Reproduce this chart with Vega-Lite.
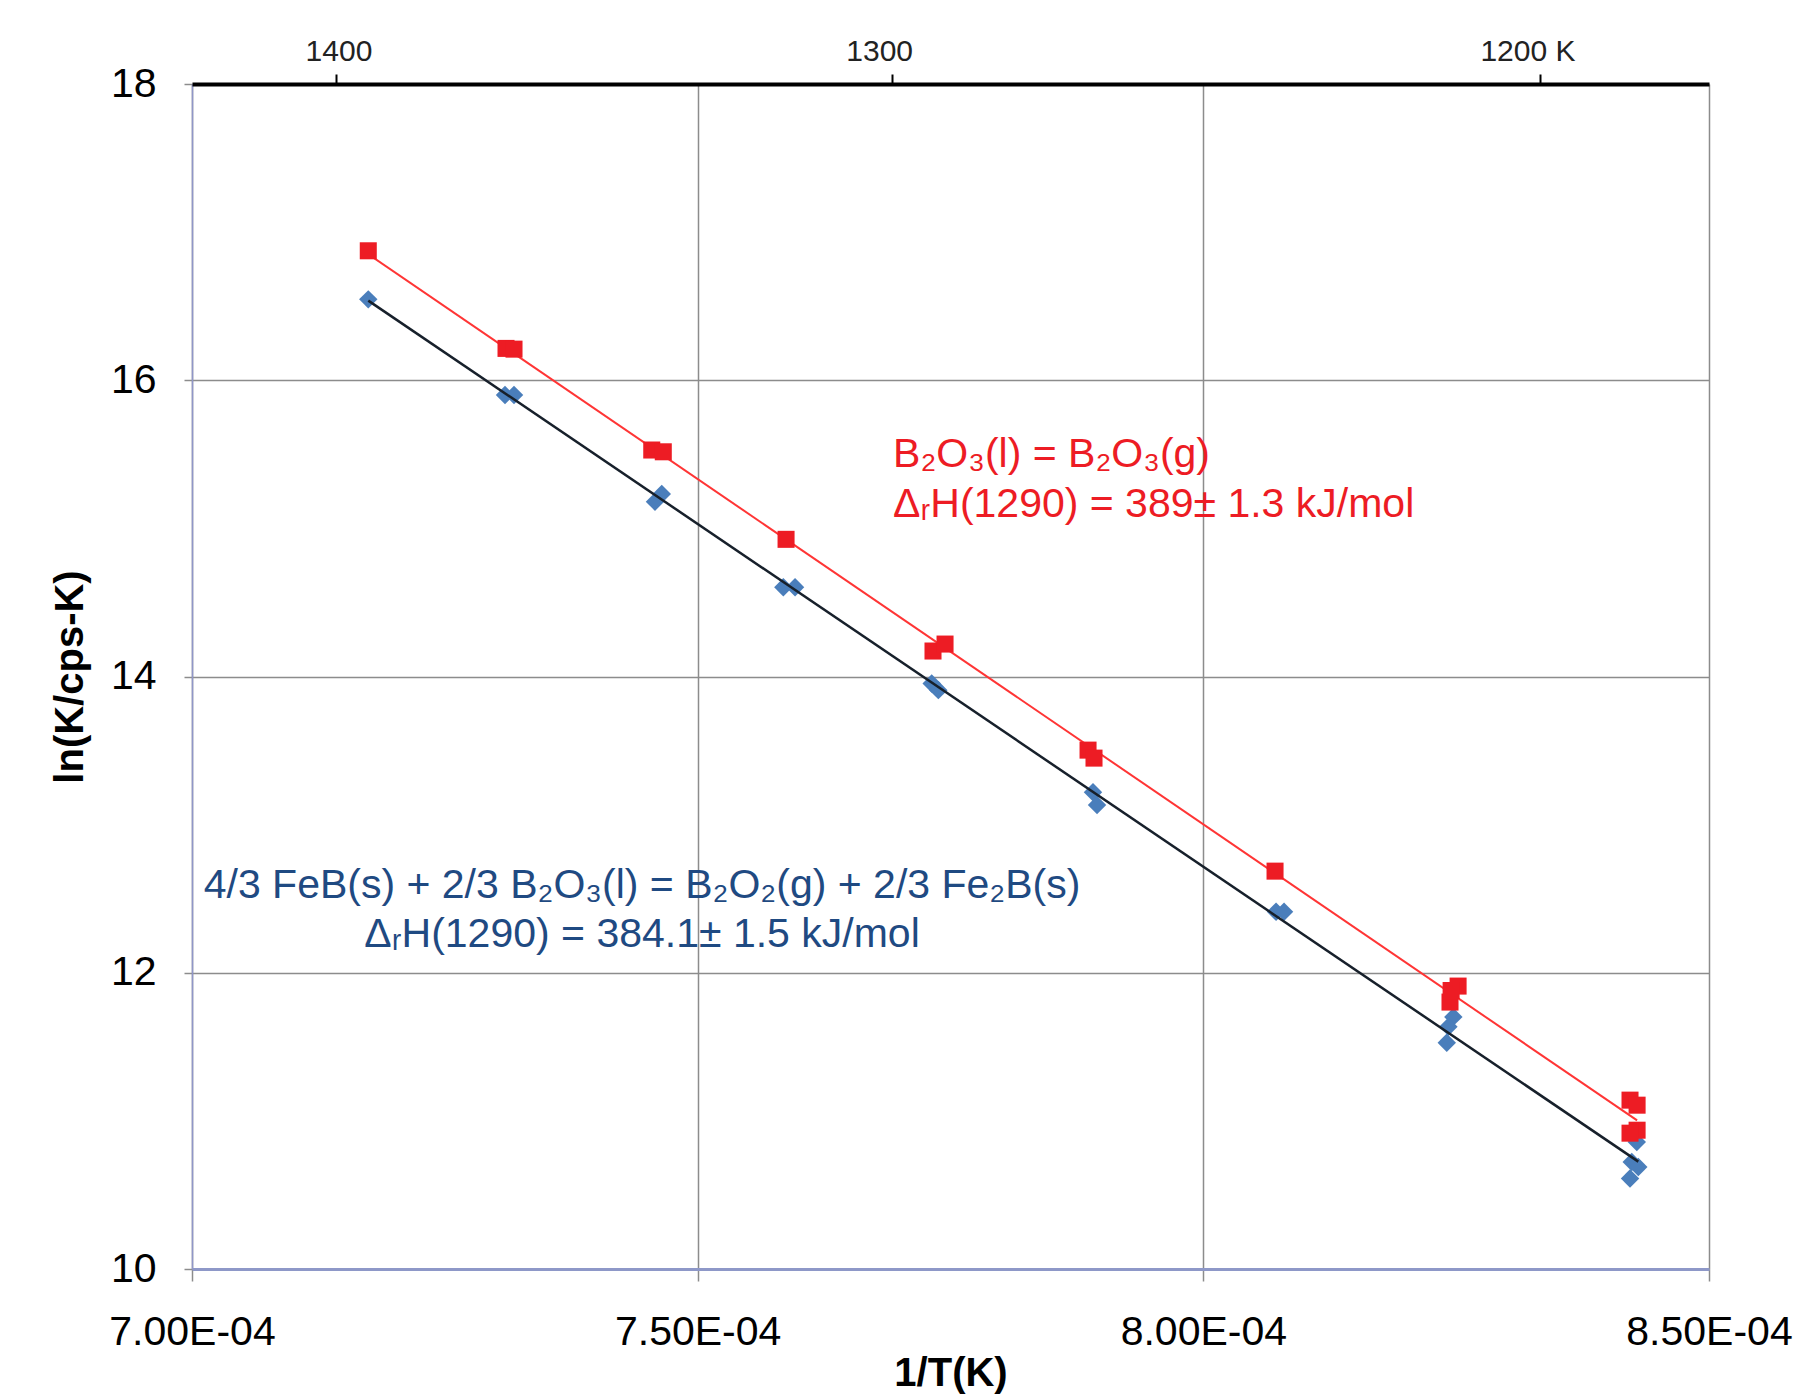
{
  "$schema": "https://vega.github.io/schema/vega-lite/v6.json",
  "width": 1517,
  "height": 1185,
  "autosize": {"type": "none"},
  "padding": {"left": 192, "top": 84, "right": 89, "bottom": 125},
  "background": "white",
  "config": {"view": {"stroke": null}, "font": "Liberation Sans"},
  "datasets": {
    "blue": [
      {"invT": 0.00071743, "lnK": 16.546},
      {"invT": 0.00073095, "lnK": 15.900},
      {"invT": 0.00073184, "lnK": 15.900},
      {"invT": 0.00074578, "lnK": 15.180},
      {"invT": 0.00074645, "lnK": 15.232},
      {"invT": 0.00075847, "lnK": 14.602},
      {"invT": 0.00075963, "lnK": 14.602},
      {"invT": 0.00077314, "lnK": 13.953},
      {"invT": 0.00077380, "lnK": 13.908},
      {"invT": 0.00078909, "lnK": 13.219},
      {"invT": 0.00078949, "lnK": 13.132},
      {"invT": 0.00080719, "lnK": 12.412},
      {"invT": 0.00080798, "lnK": 12.412},
      {"invT": 0.00082472, "lnK": 11.702},
      {"invT": 0.00082423, "lnK": 11.635},
      {"invT": 0.00082407, "lnK": 11.527},
      {"invT": 0.00084286, "lnK": 10.858},
      {"invT": 0.00084236, "lnK": 10.723},
      {"invT": 0.00084301, "lnK": 10.689},
      {"invT": 0.00084219, "lnK": 10.611}
    ],
    "red": [
      {"invT": 0.00071743, "lnK": 16.874},
      {"invT": 0.00073105, "lnK": 16.215},
      {"invT": 0.00073184, "lnK": 16.210},
      {"invT": 0.00074546, "lnK": 15.529},
      {"invT": 0.00074660, "lnK": 15.517},
      {"invT": 0.00075874, "lnK": 14.926},
      {"invT": 0.00077327, "lnK": 14.172},
      {"invT": 0.00077446, "lnK": 14.219},
      {"invT": 0.00078860, "lnK": 13.503},
      {"invT": 0.00078919, "lnK": 13.449},
      {"invT": 0.00080709, "lnK": 12.686},
      {"invT": 0.00082439, "lnK": 11.802},
      {"invT": 0.00082519, "lnK": 11.910},
      {"invT": 0.00082450, "lnK": 11.880},
      {"invT": 0.00084219, "lnK": 11.140},
      {"invT": 0.00084289, "lnK": 11.106},
      {"invT": 0.00084289, "lnK": 10.937},
      {"invT": 0.00084219, "lnK": 10.917}
    ],
    "notes": [
      {"grp": "red", "invT": 0.00076932, "lnK": 15.416, "label": "B₂O₃(l) = B₂O₃(g)"},
      {"grp": "red", "invT": 0.00076932, "lnK": 15.078, "label": "ΔᵣH(1290) = 389± 1.3 kJ/mol"},
      {"grp": "blue", "invT": 0.00074450, "lnK": 12.502, "label": "4/3 FeB(s) + 2/3 B₂O₃(l) = B₂O₂(g) + 2/3 Fe₂B(s)"},
      {"grp": "blue", "invT": 0.00074450, "lnK": 12.175, "label": "ΔᵣH(1290) = 384.1± 1.5 kJ/mol"}
    ]
  },
  "resolve": {"axis": {"x": "independent", "y": "independent"}},
  "layer": [
    {
      "data": {"name": "blue"},
      "mark": {"type": "point", "shape": "diamond", "filled": true, "size": 340, "color": "#4A7EBB", "opacity": 1},
      "encoding": {
        "x": {
          "field": "invT", "type": "quantitative",
          "scale": {"domain": [0.0007, 0.00085], "nice": false, "zero": false},
          "axis": {
            "orient": "bottom",
            "values": [0.0007, 0.00075, 0.0008, 0.00085],
            "labelExpr": "format(datum.value*10000, '.2f') + 'E-04'",
            "grid": true, "gridColor": "#8C8C8C", "gridWidth": 1.5,
            "domainColor": "#8E98C8", "domainWidth": 3,
            "tickColor": "#8C8C8C", "tickSize": 12, "tickWidth": 1.5,
            "labelFontSize": 41, "labelColor": "#000000", "labelPadding": 31,
            "labelFlush": false, "labelOverlap": false,
            "title": "1/T(K)", "titleFontSize": 40, "titleFontWeight": "bold",
            "titleColor": "#000000", "titlePadding": 1
          }
        },
        "y": {
          "field": "lnK", "type": "quantitative",
          "scale": {"domain": [10, 18], "nice": false, "zero": false},
          "axis": {
            "orient": "left",
            "values": [10, 12, 14, 16, 18],
            "grid": true, "gridColor": "#8C8C8C", "gridWidth": 1.5,
            "domainColor": "#9096C8", "domainWidth": 1.5,
            "tickColor": "#8C8C8C", "tickSize": 8, "tickWidth": 1.5,
            "labelFontSize": 41, "labelColor": "#000000", "labelPadding": 28,
            "labelFlush": false,
            "title": "ln(K/cps-K)", "titleFontSize": 40, "titleFontWeight": "bold",
            "titleColor": "#000000", "titlePadding": 20
          }
        }
      }
    },
    {
      "data": {"name": "blue"},
      "transform": [{"regression": "lnK", "on": "invT"}],
      "mark": {"type": "line", "color": "#17202B", "strokeWidth": 2.5},
      "encoding": {
        "x": {"field": "invT", "type": "quantitative", "axis": null},
        "y": {"field": "lnK", "type": "quantitative", "axis": null}
      }
    },
    {
      "data": {"name": "red"},
      "transform": [{"regression": "lnK", "on": "invT"}],
      "mark": {"type": "line", "color": "#FF3535", "strokeWidth": 2},
      "encoding": {
        "x": {"field": "invT", "type": "quantitative", "axis": null},
        "y": {"field": "lnK", "type": "quantitative", "axis": null}
      }
    },
    {
      "data": {"name": "red"},
      "mark": {"type": "point", "shape": "square", "filled": true, "size": 290, "color": "#ED1C24", "opacity": 1},
      "encoding": {
        "x": {
          "field": "invT", "type": "quantitative",
          "axis": {
            "orient": "top",
            "values": [0.000714285714, 0.000769230769, 0.000833333333],
            "labelExpr": "datum.value > 0.0008 ? '1200 K' : (datum.value > 0.00075 ? '1300' : '1400')",
            "grid": false,
            "domainColor": "#000000", "domainWidth": 4,
            "tickColor": "#000000", "tickWidth": 2, "tickSize": 10,
            "labelFontSize": 30, "labelColor": "#222222", "labelPadding": 8,
            "labelOffset": {"condition": {"test": "datum.value > 0.00075", "value": -13}, "value": 2},
            "labelFlush": false, "labelOverlap": false,
            "title": null, "zindex": 1
          }
        },
        "y": {"field": "lnK", "type": "quantitative", "axis": null}
      }
    },
    {
      "data": {"name": "notes"},
      "transform": [{"filter": "datum.grp === 'red'"}],
      "mark": {"type": "text", "align": "left", "baseline": "alphabetic", "fontSize": 41, "color": "#ED1C24"},
      "encoding": {
        "x": {"field": "invT", "type": "quantitative", "axis": null},
        "y": {"field": "lnK", "type": "quantitative", "axis": null},
        "text": {"field": "label"}
      }
    },
    {
      "data": {"name": "notes"},
      "transform": [{"filter": "datum.grp === 'blue'"}],
      "mark": {"type": "text", "align": "center", "baseline": "alphabetic", "fontSize": 41, "color": "#1F4A82"},
      "encoding": {
        "x": {"field": "invT", "type": "quantitative", "axis": null},
        "y": {"field": "lnK", "type": "quantitative", "axis": null},
        "text": {"field": "label"}
      }
    }
  ]
}
